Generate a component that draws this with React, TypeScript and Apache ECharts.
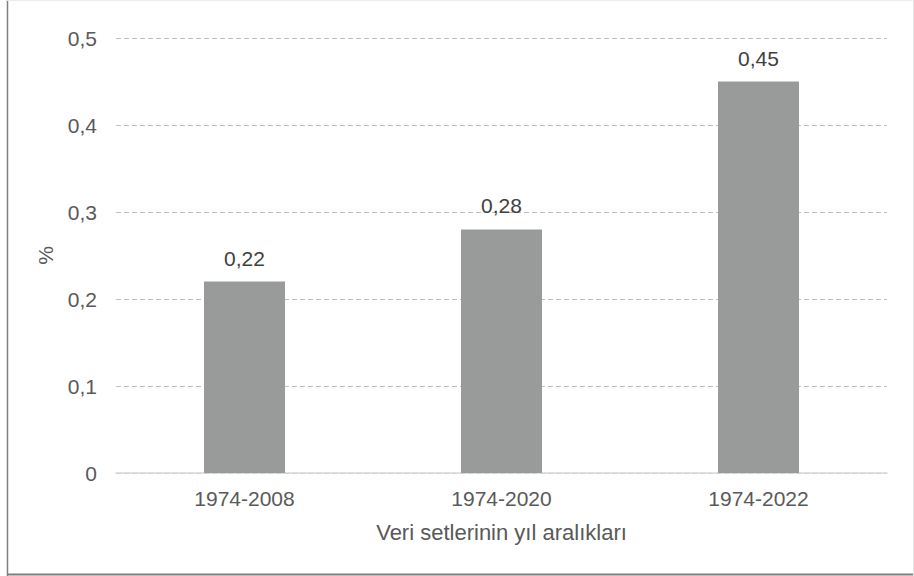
import React, { useEffect, useRef } from "react";
import * as echarts from "echarts";

const categories = ["1974-2008", "1974-2020", "1974-2022"];
const values = [0.22, 0.28, 0.45];
const yTicks = [0, 0.1, 0.2, 0.3, 0.4, 0.5];
const xAxisName = "Veri setlerinin yıl aralıkları";
const yAxisName = "%";

const fmt = (v: number) => (v === 0 ? "0" : String(v).replace(".", ","));

export default function App() {
  const ref = useRef<HTMLDivElement>(null);
  useEffect(() => {
    if (!ref.current) return;
    const chart = echarts.init(ref.current, undefined, { renderer: "svg" });
    const font = "Arial, 'Liberation Sans', sans-serif";
    chart.setOption({
      animation: false,
      backgroundColor: "#ffffff",
      textStyle: { fontFamily: font },
      grid: { left: 116, right: 27, top: 38, bottom: 103 },
      graphic: [
        { type: "line", shape: { x1: 7.5, y1: 0, x2: 7.5, y2: 576 }, style: { stroke: "#7f7f7f", lineWidth: 1.5 }, silent: true },
        { type: "line", shape: { x1: 7, y1: 574.5, x2: 914, y2: 574.5 }, style: { stroke: "#7f7f7f", lineWidth: 2 }, silent: true },
        { type: "line", shape: { x1: 913.5, y1: 0, x2: 913.5, y2: 576 }, style: { stroke: "#e6e6e6", lineWidth: 1 }, silent: true },
        { type: "line", shape: { x1: 7, y1: 0.5, x2: 914, y2: 0.5 }, style: { stroke: "#ececec", lineWidth: 1 }, silent: true },
      ],
      xAxis: {
        type: "category",
        data: categories,
        name: xAxisName,
        nameLocation: "middle",
        nameGap: 48,
        nameTextStyle: { fontSize: 22, color: "#595959", fontFamily: font },
        axisLine: { lineStyle: { color: "#d9d9d9", width: 1.5 } },
        axisTick: { show: false },
        axisLabel: { fontSize: 21, color: "#595959", margin: 15, fontFamily: font },
      },
      yAxis: {
        type: "value",
        min: yTicks[0],
        max: yTicks[yTicks.length - 1],
        interval: 0.1,
        name: yAxisName,
        nameLocation: "middle",
        nameGap: 60,
        nameRotate: 90,
        nameTextStyle: { fontSize: 21, color: "#595959", fontFamily: font },
        axisLine: { show: false },
        axisTick: { show: false },
        axisLabel: {
          fontSize: 21,
          color: "#595959",
          margin: 19,
          fontFamily: font,
          formatter: (v: number) => fmt(v),
        },
        splitLine: { lineStyle: { color: "#bfbfbf", type: [5, 3], width: 1 } },
      },
      series: [
        {
          type: "bar",
          data: values,
          barWidth: 81,
          itemStyle: { color: "#999b9b" },
          label: {
            show: true,
            position: "top",
            distance: 13,
            fontSize: 21,
            color: "#404040",
            fontFamily: font,
            formatter: (p: any) => fmt(p.value),
          },
        },
      ],
    });
    return () => chart.dispose();
  }, []);
  return <div ref={ref} style={{ width: 914, height: 576, position: "absolute", left: 0, top: 0 }} />;
}
